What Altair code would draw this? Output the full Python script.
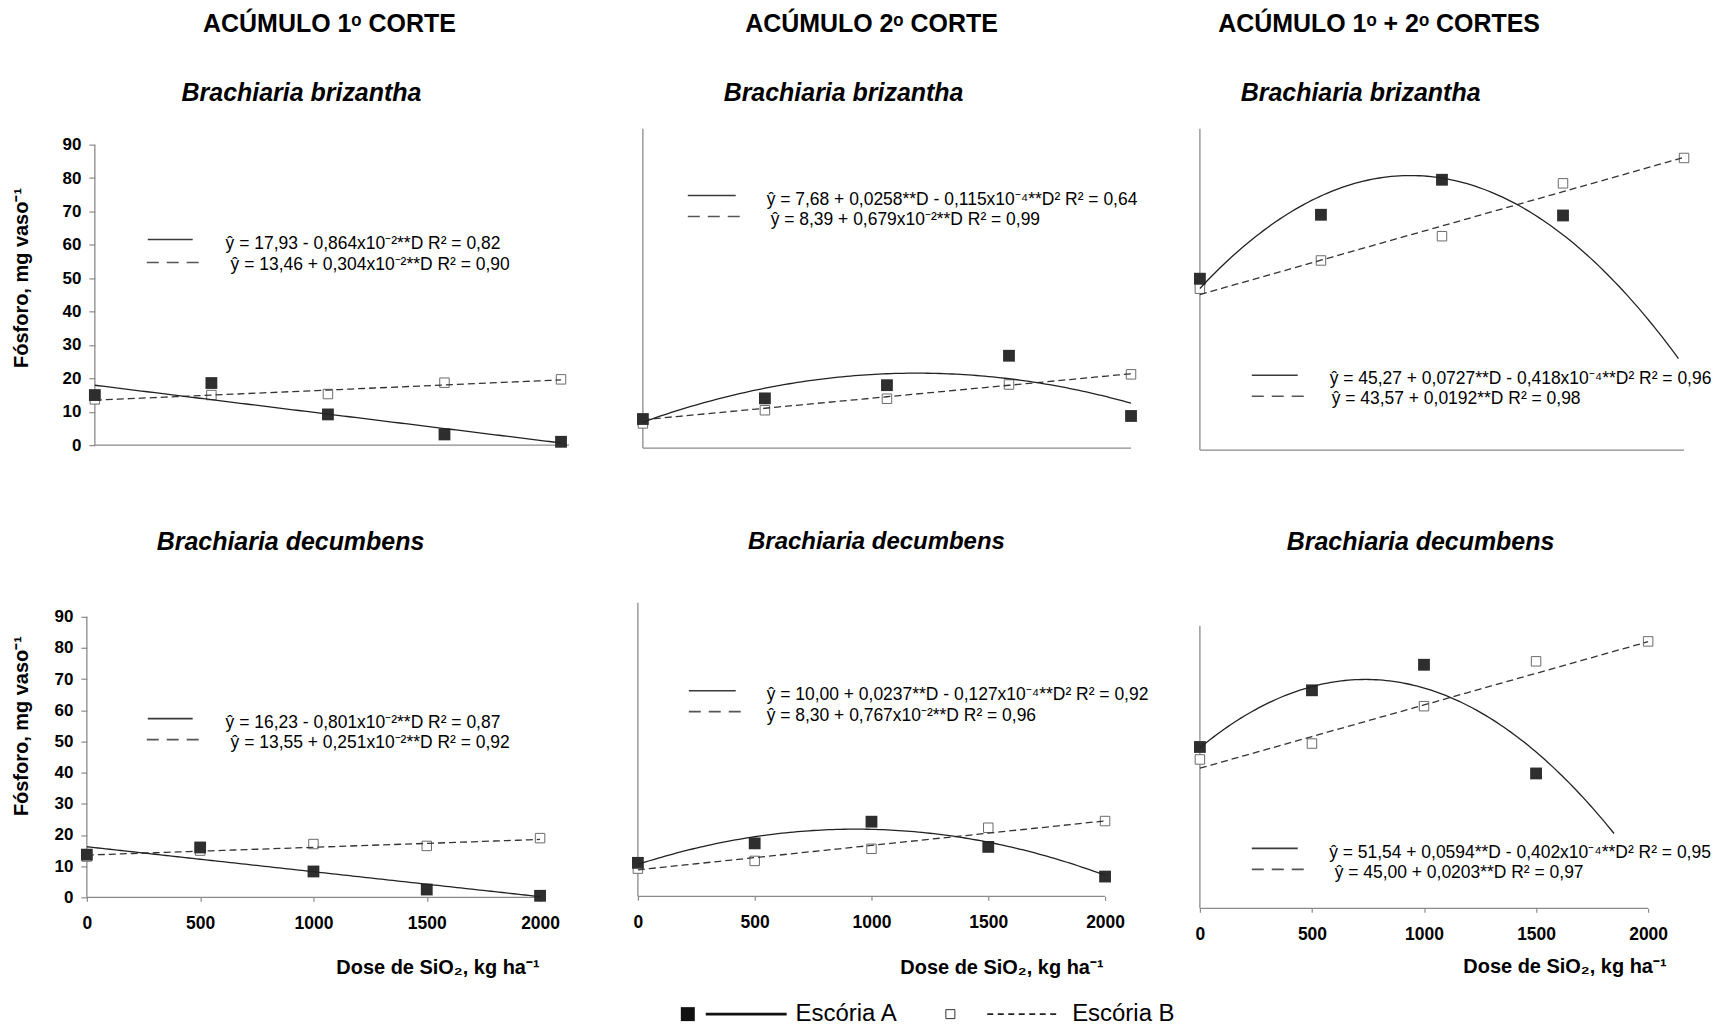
import altair as alt
import numpy as np
import pandas as pd

FONT = "Liberation Sans"

# ---------------- data ----------------
DOSES = [0, 500, 1000, 1500, 2000]

# Brachiaria brizantha
BRIZ_C1_A = [15.0, 18.6, 9.2, 3.2, 1.0]
BRIZ_C1_B = [13.7, 15.0, 15.3, 18.7, 19.7]
BRIZ_C2_A = [8.6, 14.7, 18.6, 27.3, 9.5]
BRIZ_C2_B = [7.3, 11.2, 14.6, 18.8, 21.8]
BRIZ_TOT_A = [48.0, 65.9, 75.7, 65.7, None]
BRIZ_TOT_B = [45.2, 53.1, 59.9, 74.7, 81.8]
# Brachiaria decumbens
DECU_C1_A = [13.7, 16.0, 8.3, 2.5, 0.5]
DECU_C1_B = [13.1, 15.0, 17.1, 16.5, 19.0]
DECU_C2_A = [10.5, 16.6, 23.4, 15.5, 6.2]
DECU_C2_B = [8.7, 11.1, 14.9, 21.5, 23.6]
DECU_TOT_A = [51.8, 70.0, 78.2, 43.3, None]
DECU_TOT_B = [47.8, 52.9, 64.9, 79.3, 85.7]

# printed regression equations (b0, b1, b2)
COEF_A = [(17.93, -0.864e-2, 0.0), (7.68, 0.0258, -0.115e-4), (45.27, 0.0727, -0.418e-4),
          (16.23, -0.801e-2, 0.0), (10.00, 0.0237, -0.127e-4), (51.54, 0.0594, -0.402e-4)]
COEF_B = [(13.46, 0.304e-2), (8.39, 0.679e-2), (43.57, 0.0192),
          (13.55, 0.251e-2), (8.30, 0.767e-2), (45.00, 0.0203)]
CURVE_END_A = [2000, 2000, 1977, 2000, 2000, 1848]

EQ_A = ["ŷ = 17,93 - 0,864x10⁻²**D R² = 0,82",
        "ŷ = 7,68 + 0,0258**D - 0,115x10⁻⁴**D² R² = 0,64",
        "ŷ = 45,27 + 0,0727**D - 0,418x10⁻⁴**D² R² = 0,96",
        "ŷ = 16,23 - 0,801x10⁻²**D R² = 0,87",
        "ŷ = 10,00 + 0,0237**D - 0,127x10⁻⁴**D² R² = 0,92",
        "ŷ = 51,54 + 0,0594**D - 0,402x10⁻⁴**D² R² = 0,95"]
EQ_B = ["ŷ = 13,46 + 0,304x10⁻²**D R² = 0,90",
        "ŷ = 8,39 + 0,679x10⁻²**D R² = 0,99",
        "ŷ = 43,57 + 0,0192**D R² = 0,98",
        "ŷ = 13,55 + 0,251x10⁻²**D R² = 0,92",
        "ŷ = 8,30 + 0,767x10⁻²**D R² = 0,96",
        "ŷ = 45,00 + 0,0203**D R² = 0,97"]

HEADERS = ["ACÚMULO 1ᵒ CORTE", "ACÚMULO 2ᵒ CORTE", "ACÚMULO 1ᵒ + 2ᵒ CORTES"]
SPECIES = ["Brachiaria brizantha", "Brachiaria decumbens"]
Y_TITLE = "Fósforo, mg vaso⁻¹"
X_TITLE = "Dose de SiO₂,  kg ha⁻¹"
LEGEND_LABELS = ["Escória A", "Escória B"]
Y_TICKS = [0, 10, 20, 30, 40, 50, 60, 70, 80, 90]

A_SERIES = [BRIZ_C1_A, BRIZ_C2_A, BRIZ_TOT_A, DECU_C1_A, DECU_C2_A, DECU_TOT_A]
B_SERIES = [BRIZ_C1_B, BRIZ_C2_B, BRIZ_TOT_B, DECU_C1_B, DECU_C2_B, DECU_TOT_B]

# ---------------- layout / style ----------------
AXIS_GREY = "#8a8a8a"
ONE = pd.DataFrame({"k": [0]})
EQ_SIZE = 17.5

PANELS = [
    dict(w=492, h=317, xdom=[-34.26, 2072.8], ydom=[0, 94.78], yline=90, xline=2034,
         seg=(61, 106, 60, 113, 111, 134), txt=(139, 116, 144, 137),
         head=(243, -105), spec=(215, -36, 25), yaxis=dict(offset=-8, titleX=-73, titleY=149), xaxis=None),
    dict(w=503, h=320, xdom=[-20.45, 2036.8], ydom=[0, 94.4], yline=94.4, xline=2000,
         seg=(50, 98, 50, 104, 67, 88), txt=(129, 71, 133, 91),
         head=(234, -105), spec=(206, -36, 25), yaxis=None, xaxis=None),
    dict(w=485, h=322, xdom=[0, 2000], ydom=[0, 90], yline=90, xline=2000,
         seg=(52, 98, 52, 105, 247, 268), txt=(130, 251, 132, 271),
         head=(179.5, -105), spec=(161, -36, 25), yaxis=None, xaxis=None),
    dict(w=492, h=295, xdom=[0, 2167.4], ydom=[0, 94.49], yline=90, xline=2000,
         seg=(61, 106, 60, 113, 116, 137), txt=(139, 120, 144, 140),
         head=None, spec=(204, -61, 25), yaxis=dict(offset=0, titleX=-65, titleY=123),
         xaxis=dict(titleX=453, titleY=70)),
    dict(w=503, h=294, xdom=[0, 2149.6], ydom=[0, 92.0], yline=92, xline=2000,
         seg=(51, 98, 51, 104, 88, 109), txt=(129, 92, 129, 113),
         head=None, spec=(239, -61, 24), yaxis=None, xaxis=dict(titleX=466, titleY=71)),
    dict(w=449, h=306, xdom=[0, 2000], ydom=[0, 98.08], yline=90.7, xline=2000,
         seg=(52, 98, 52, 105, 246, 267), txt=(129.5, 251, 135, 271),
         head=None, spec=(221, -61, 25), yaxis=None, xaxis=dict(titleX=467, titleY=58)),
]


def seg(x1, x2, y, color, width, dash=None):
    kw = dict(color=color, strokeWidth=width)
    if dash:
        kw["strokeDash"] = dash
    return alt.Chart(ONE).mark_rule(**kw).encode(
        x=alt.value(x1), x2=alt.value(x2), y=alt.value(y))


def label(x, y, text, size, weight="normal", style="normal", align="left"):
    return alt.Chart(ONE).mark_text(
        font=FONT, fontSize=size, fontWeight=weight, fontStyle=style,
        align=align, baseline="middle", color="black", text=text
    ).encode(x=alt.value(x), y=alt.value(y))


def make_panel(i):
    cfg = PANELS[i]
    xs = alt.Scale(domain=cfg["xdom"], nice=False, zero=False)
    ys = alt.Scale(domain=cfg["ydom"], nice=False, zero=False)

    if cfg["xaxis"] is None:
        xax = None
    else:
        xax = alt.Axis(values=DOSES, format="d", domain=False, grid=False,
                       ticks=True, tickSize=4, tickColor=AXIS_GREY, tickWidth=1.2,
                       labelFont=FONT, labelFontSize=17.5, labelFontWeight="bold",
                       labelColor="black", labelPadding=13, labelFlush=False,
                       title=X_TITLE, titleFont=FONT, titleFontSize=20,
                       titleFontWeight="bold", titleColor="black",
                       titleX=cfg["xaxis"]["titleX"], titleY=cfg["xaxis"]["titleY"],
                       titleAlign="right", titleBaseline="middle", titleAnchor="end")
    if cfg["yaxis"] is None:
        yax = None
    else:
        yax = alt.Axis(values=Y_TICKS, format="d", domain=False, grid=False,
                       ticks=True, tickSize=6, tickColor=AXIS_GREY, tickWidth=1.2,
                       offset=cfg["yaxis"]["offset"],
                       labelFont=FONT, labelFontSize=17, labelFontWeight="bold",
                       labelColor="black", labelPadding=8, labelFlush=False,
                       title=Y_TITLE, titleFont=FONT, titleFontSize=20,
                       titleFontWeight="bold", titleColor="black",
                       titleX=cfg["yaxis"]["titleX"], titleY=cfg["yaxis"]["titleY"],
                       titleAngle=270, titleAlign="center", titleBaseline="middle")

    X = alt.X("D:Q", scale=xs, axis=xax)
    Y = alt.Y("P:Q", scale=ys, axis=yax)

    a_df = pd.DataFrame({"D": DOSES, "P": A_SERIES[i]}).dropna()
    b_df = pd.DataFrame({"D": DOSES, "P": B_SERIES[i]}).dropna()

    b0, b1, b2 = COEF_A[i]
    dA = np.linspace(0, CURVE_END_A[i], 121)
    curveA = pd.DataFrame({"D": dA, "P": b0 + b1 * dA + b2 * dA ** 2})
    c0, c1 = COEF_B[i]
    dB = np.linspace(0, 2000, 41)
    lineB = pd.DataFrame({"D": dB, "P": c0 + c1 * dB})

    yline = pd.DataFrame({"D": [0], "P": [0], "P2": [cfg["yline"]]})
    xline = pd.DataFrame({"D": [0], "D2": [cfg["xline"]], "P": [0]})

    layers = [
        alt.Chart(xline).mark_rule(color=AXIS_GREY, strokeWidth=1.3).encode(x=X, x2="D2:Q", y=Y),
        alt.Chart(yline).mark_rule(color=AXIS_GREY, strokeWidth=1.3).encode(x=X, y=Y, y2="P2:Q"),
        alt.Chart(b_df).mark_square(size=90, fill="white", stroke="#6a6a6a",
                                    strokeWidth=1, opacity=1).encode(x=X, y=Y),
        alt.Chart(a_df).mark_square(size=140, color="#2e2e2e", opacity=1).encode(x=X, y=Y),
        alt.Chart(lineB).mark_line(color="#333333", strokeWidth=1.3,
                                   strokeDash=[7, 4]).encode(x=X, y=Y),
        alt.Chart(curveA).mark_line(color="#222222", strokeWidth=1.3).encode(x=X, y=Y),
    ]

    sx1, sx2, dx1, dx2, sy, dy = cfg["seg"]
    layers.append(seg(sx1, sx2, sy, "#3a3a3a", 1.6))
    layers.append(seg(dx1, dx2, dy, "#555555", 1.6, [12, 8]))
    tx1, ty1, tx2, ty2 = cfg["txt"]
    layers.append(label(tx1, ty1, EQ_A[i], EQ_SIZE))
    layers.append(label(tx2, ty2, EQ_B[i], EQ_SIZE))

    if cfg["head"] is not None:
        hx, hy = cfg["head"]
        layers.append(label(hx, hy, HEADERS[i], 25, weight="bold", align="center"))
    spx, spy, sps = cfg["spec"]
    layers.append(label(spx, spy, SPECIES[0] if i < 3 else SPECIES[1], sps,
                        weight="bold", style="italic", align="center"))

    if i == 4:
        ly = 412
        layers.append(alt.Chart(ONE).mark_square(size=196, color="#111111", opacity=1)
                      .encode(x=alt.value(50), y=alt.value(ly)))
        layers.append(seg(68, 149, ly, "#111111", 3))
        layers.append(label(158, ly, LEGEND_LABELS[0], 24))
        layers.append(alt.Chart(ONE).mark_square(size=81, fill="white", stroke="#333333",
                                                 strokeWidth=1, opacity=1)
                      .encode(x=alt.value(313), y=alt.value(ly)))
        layers.append(seg(350, 422, ly, "#222222", 1.6, [6, 4.5]))
        layers.append(label(435, ly, LEGEND_LABELS[1], 24))

    return alt.layer(*layers).properties(width=cfg["w"], height=cfg["h"])


chart = alt.concat(
    *[make_panel(i) for i in range(6)],
    columns=3, align="none", bounds="flush",
    spacing={"row": 153, "column": 60},
).properties(
    padding={"left": 4, "top": 3, "right": 0, "bottom": 0},
    background="white",
).configure_view(stroke=None)

chart.save("out.html", embed_options={"renderer": "svg", "actions": False})
